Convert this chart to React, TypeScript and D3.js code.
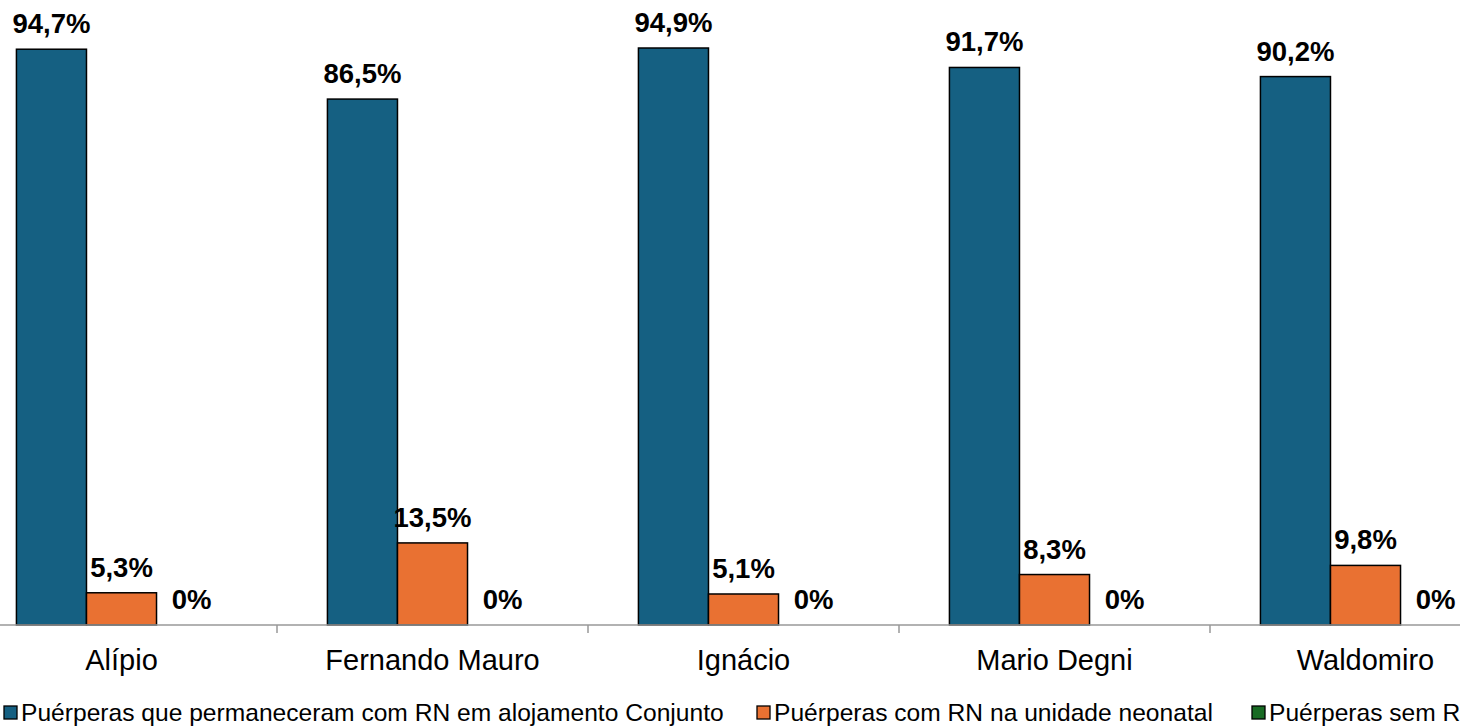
import React from "react";
import * as d3 from "d3";

const categories = ["Alípio", "Fernando Mauro", "Ignácio", "Mario Degni", "Waldomiro"];
const seriesNames = [
  "Puérperas que permaneceram com RN em alojamento Conjunto",
  "Puérperas com RN na unidade neonatal",
  "Puérperas sem RN",
];
const alojamentoConjunto = [94.7, 86.5, 94.9, 91.7, 90.2];
const unidadeNeonatal = [5.3, 13.5, 5.1, 8.3, 9.8];
const semRN = [0, 0, 0, 0, 0];
const seriesColors = ["#156082", "#E97132", "#196B24"];

const W = 1460;
const H = 727;
const FONT = "'Liberation Sans', Arial, Helvetica, sans-serif";

function fmt(v: number): string {
  return v === 0 ? "0%" : v.toFixed(1).replace(".", ",") + "%";
}

export default function App() {
  const values = [alojamentoConjunto, unidadeNeonatal, semRN];
  const baseline = 625;

  const x = d3.scaleBand<string>().domain(categories).range([-34, 1521]).padding(0);
  const xs = d3
    .scaleBand<number>()
    .domain([0, 1, 2])
    .range([0, x.bandwidth()])
    .paddingInner(0)
    .paddingOuter(0.72);
  const y = d3.scaleLinear().domain([0, 100]).range([baseline, 17]);

  const legendX = [4, 757, 1252];

  return (
    <svg
      width={W}
      height={H}
      style={{ position: "absolute", left: 0, top: 0, display: "block", background: "#fff" }}
      fontFamily={FONT}
    >
      {categories.map((c, ci) => (
        <g key={c} transform={`translate(${x(c)},0)`}>
          {values.map((arr, si) => {
            const v = arr[ci];
            const bx = xs(si)!;
            const bw = xs.bandwidth();
            return (
              <g key={si}>
                {v > 0 && (
                  <rect
                    x={bx}
                    y={y(v)}
                    width={bw}
                    height={baseline - y(v)}
                    fill={seriesColors[si]}
                    stroke="#000"
                    strokeWidth={1.5}
                  />
                )}
                <text
                  x={bx + bw / 2}
                  y={y(v) - 16}
                  textAnchor="middle"
                  fontWeight="bold"
                  fontSize={27.5}
                  fill="#000"
                >
                  {fmt(v)}
                </text>
              </g>
            );
          })}
          <text
            x={x.bandwidth() / 2}
            y={670}
            textAnchor="middle"
            fontSize={29}
            fill="#000"
          >
            {c}
          </text>
        </g>
      ))}

      {/* category axis */}
      <line x1={0} x2={W} y1={baseline} y2={baseline} stroke="#999" strokeWidth={1.5} />
      {categories.slice(1).map((c) => (
        <line
          key={c}
          x1={x(c)!}
          x2={x(c)!}
          y1={baseline}
          y2={baseline + 8}
          stroke="#999"
          strokeWidth={1.5}
        />
      ))}

      {/* legend */}
      {seriesNames.map((name, i) => (
        <g key={name}>
          <rect
            x={legendX[i]}
            y={706}
            width={13}
            height={13}
            fill={seriesColors[i]}
            stroke="#000"
            strokeWidth={1.3}
          />
          <text x={legendX[i] + 17} y={720.5} fontSize={24.6} fill="#000">
            {name}
          </text>
        </g>
      ))}
    </svg>
  );
}
